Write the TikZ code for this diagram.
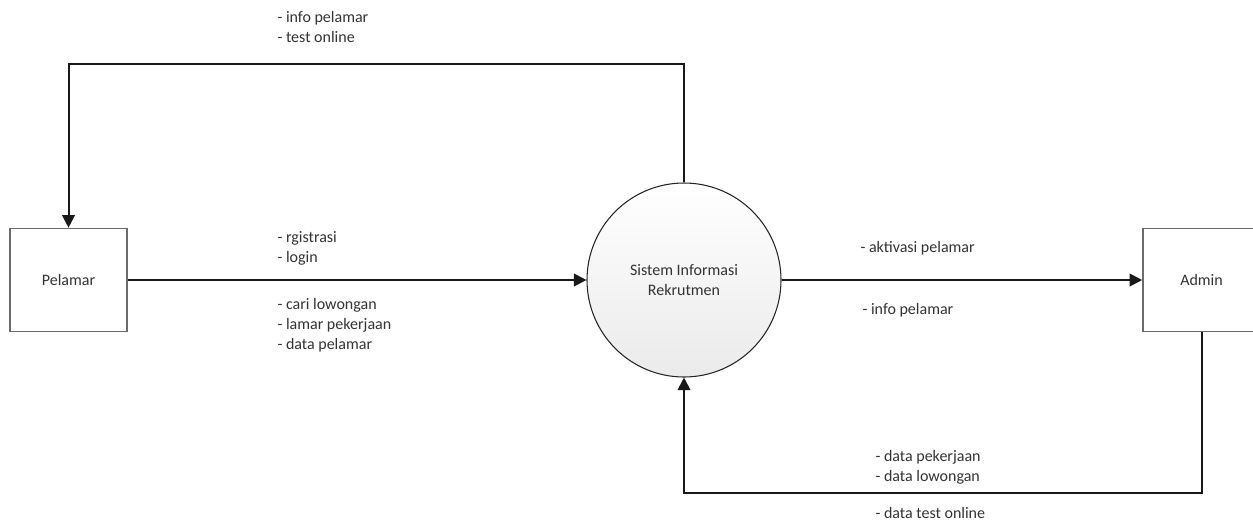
\documentclass[tikz,border=0pt]{standalone}
\usepackage{fontspec}
\setmainfont{Carlito}
\usetikzlibrary{arrows.meta}

\tikzset{every picture/.style={line width=0.75pt}}
\tikzset{
  entity/.style={draw=black!58, line width=1.2pt, fill=white, minimum width=87.75pt, minimum height=77.25pt, inner sep=0pt, text=black!80, font=\fontsize{12}{14}\selectfont},
  process/.style={circle, draw=black!85, line width=0.8pt, top color=white, bottom color=black!8, minimum size=145.5pt, inner sep=0pt, align=center, text=black!80, font=\fontsize{12}{14.5}\selectfont},
  flow/.style={draw=black!90, line width=1.5pt, -{Triangle[length=9.5pt,width=9.5pt]}},
  flowlbl/.style={anchor=west, align=left, inner sep=0pt, text=black!80, font=\fontsize{12}{15}\selectfont},
}

\begin{document}
\begin{tikzpicture}[x=0.75pt,y=0.75pt,yscale=-1,xscale=1]
\useasboundingbox (0,0) rectangle (1253,522);

%Shape: Rectangle [Pelamar]
\node[entity] (pel) at (68.5,280) {Pelamar};
%Shape: Circle [process]
\node[process] (sis) at (684,280) {Sistem Informasi\\Rekrutmen};
%Shape: Rectangle [Admin]
\node[entity] (adm) at (1201.5,280) {Admin};

%Straight Lines
\draw[flow] (pel.east) -- (sis.west);
\draw[flow] (sis.east) -- (adm.west);
%Elbow Lines
\draw[flow] (sis.north) -- ++(0,-118) -| (pel.north);
\draw[flow] (adm.south) -- ++(0,161) -| (sis.south);

% Text Node
\node[flowlbl] (lblTop) at (277,27) {- info pelamar\\- test online};
% Text Node
\node[flowlbl] (lblReg) at (277,248) {- rgistrasi\\- login};
% Text Node
\node[flowlbl] (lblCari) at (277,325) {- cari lowongan\\- lamar pekerjaan\\- data pelamar};
% Text Node
\node[flowlbl] (lblAkt) at (860,248) {- aktivasi pelamar};
% Text Node
\node[flowlbl] (lblInfo) at (862,310) {- info pelamar};
% Text Node
\node[flowlbl] (lblData) at (875,467) {- data pekerjaan\\- data lowongan};
% Text Node
\node[flowlbl] (lblTest) at (875,513) {- data test online};

\end{tikzpicture}
\end{document}
